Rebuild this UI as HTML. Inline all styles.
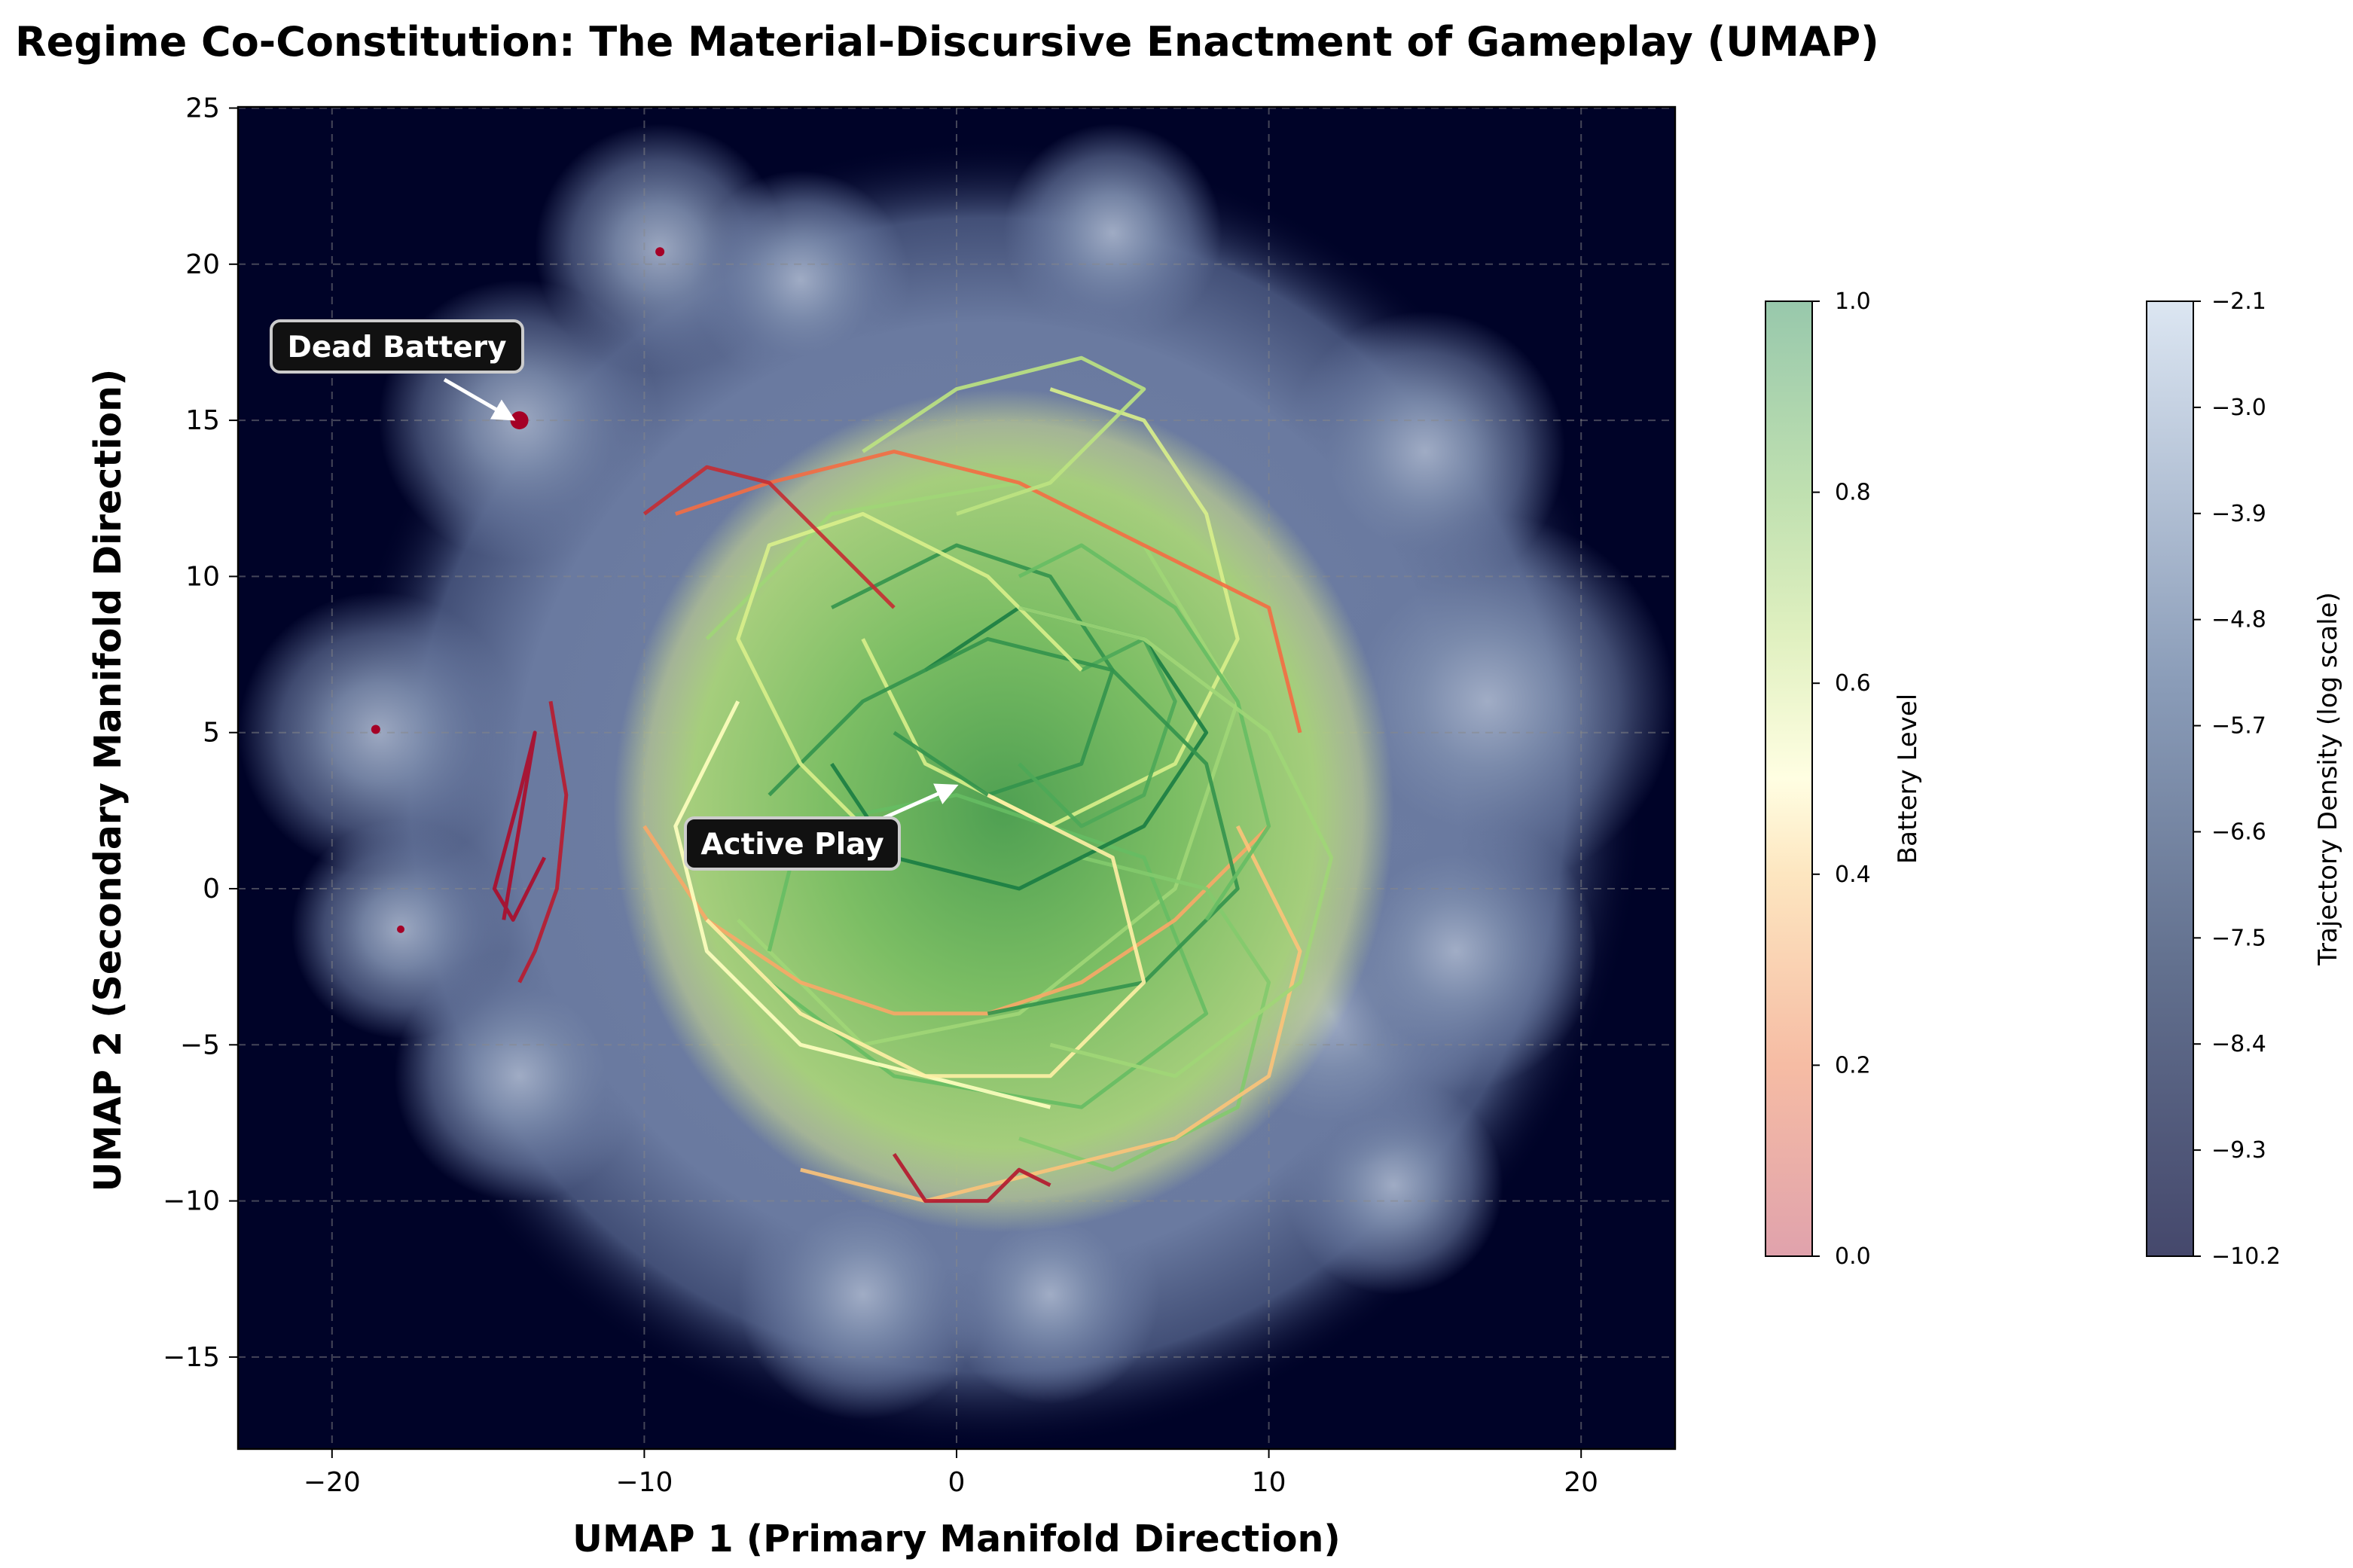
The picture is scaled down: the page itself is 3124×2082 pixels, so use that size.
<!DOCTYPE html>
<html><head><meta charset="utf-8">
<style>
html,body{margin:0;padding:0;background:#fff;}
svg{display:block;font-family:"DejaVu Sans","Liberation Sans",sans-serif;}
</style></head>
<body>
<svg id="chart" width="3124" height="2082" viewBox="0 0 1562 1041" xmlns="http://www.w3.org/2000/svg">
<defs>
<radialGradient id="blob"><stop offset="0" stop-color="#a4b0c8" stop-opacity="0.95"/><stop offset="0.35" stop-color="#7e8eae" stop-opacity="0.9"/><stop offset="0.7" stop-color="#6a7aa0" stop-opacity="0.6"/><stop offset="1" stop-color="#6a7aa0" stop-opacity="0"/></radialGradient>
<radialGradient id="mainblob"><stop offset="0" stop-color="#7282a6"/><stop offset="0.72" stop-color="#6a7aa0"/><stop offset="0.88" stop-color="#4a5880" stop-opacity="0.9"/><stop offset="1" stop-color="#000328" stop-opacity="0"/></radialGradient>
<radialGradient id="mass"><stop offset="0" stop-color="#4fa052"/><stop offset="0.45" stop-color="#7cbe64"/><stop offset="0.8" stop-color="#a8d27a" stop-opacity="0.95"/><stop offset="0.92" stop-color="#c8d890" stop-opacity="0.6"/><stop offset="1" stop-color="#c8d890" stop-opacity="0"/></radialGradient>
<linearGradient id="batt" x1="0" y1="1" x2="0" y2="0"><stop offset="0" stop-color="#e0a2ac"/><stop offset="0.2" stop-color="#f6bca4"/><stop offset="0.4" stop-color="#fde6c0"/><stop offset="0.5" stop-color="#fffee2"/><stop offset="0.65" stop-color="#e0f0c0"/><stop offset="0.8" stop-color="#bfe0b0"/><stop offset="1" stop-color="#98c8ac"/></linearGradient>
<linearGradient id="dens" x1="0" y1="1" x2="0" y2="0"><stop offset="0" stop-color="#45486c"/><stop offset="0.3" stop-color="#62708e"/><stop offset="0.6" stop-color="#8a9cb8"/><stop offset="1" stop-color="#dce6f2"/></linearGradient>
<clipPath id="plotclip"><rect x="158" y="71" width="954" height="891"/></clipPath>
<marker id="arr" markerWidth="6" markerHeight="6" refX="5" refY="3" orient="auto"><path d="M0,0 L6,3 L0,6 z" fill="#fff"/></marker>
</defs>
<text x="10" y="37" font-size="27" font-weight="bold" fill="#000">Regime Co-Constitution: The Material-Discursive Enactment of Gameplay (UMAP)</text>
<rect x="158" y="71" width="954" height="891" fill="#000328"/>
<g id="density" clip-path="url(#plotclip)"></g>
<g id="grid" clip-path="url(#plotclip)"></g>
<g id="traj" clip-path="url(#plotclip)"></g>
<g id="axes"></g>
<text x="635" y="1030" text-anchor="middle" font-size="24.5" font-weight="bold">UMAP 1 (Primary Manifold Direction)</text>
<text transform="translate(80,518) rotate(-90)" text-anchor="middle" font-size="24.5" font-weight="bold">UMAP 2 (Secondary Manifold Direction)</text>
<g id="annots"></g>
<g id="cbars"></g>
</svg>
<script>
const xTicks=[-20,-10,0,10,20];
const yTicks=[-15,-10,-5,0,5,10,15,20,25];
const densityCenters=[[1,3,21],[-9.5,20.5,4],[-14,15,4.5],[-18.5,5,4.5],[-17.8,-1.3,3.5],[5,21,3.5],[15,14,4.5],[17,6,6],[14,-9.5,3.5],[-3,-13,4],[3,-13,3.5],[-5,19.5,3.5],[12,-4,5],[-14,-6,4],[16,-2,4.5]];
const battTicks=[0.0,0.2,0.4,0.6,0.8,1.0];
const densTicks=["\u221210.2","\u22129.3","\u22128.4","\u22127.5","\u22126.6","\u22125.7","\u22124.8","\u22123.9","\u22123.0","\u22122.1"];
const massCenter=[1.5,2.5,12.5];
const trajX=[[-8,-4,2,6,9,7,2,-3,-7],[-6,-2,4,8,6,0,-5,-6],[3,6,8,9,7,3,-1,-3],[-10,-8,-5,-2,1,4,7,10],[-4,0,3,5,4,1,-2],[-9,-6,-2,2,6,10,11],[2,5,9,10,8,4],[-7,-9,-8,-5,-1,3],[-5,-1,3,7,10,11,9],[-1,2,6,8,6,2,-2,-4],[4,6,7,6,4,2],[-3,0,4,6,3,0],[-6,-3,1,5,8,9,6,1],[-8,-5,-1,3,6,5,1],[2,4,7,9,10,8],[-2,-5,-7,-6,-3,1,4],[3,7,11,12,10,6,2]];
const trajY=[[8,12,13,11,6,0,-4,-5,-1],[-3,-6,-7,-4,1,3,2,-2],[16,15,12,8,4,2,4,8],[2,-1,-3,-4,-4,-3,-1,2],[9,11,10,7,4,3,5],[12,13,14,13,11,9,5],[-8,-9,-7,-3,0,1],[6,2,-2,-5,-6,-7],[-9,-10,-9,-8,-6,-2,2],[7,9,8,5,2,0,1,4],[7,8,6,3,2,4],[14,16,17,16,13,12],[3,6,8,7,4,0,-3,-4],[-1,-4,-6,-6,-3,1,3],[10,11,9,6,2,-1],[1,4,8,11,12,10,7],[-5,-6,-3,1,5,8,9]];
const trajBatt=[0.7,0.8,0.6,0.3,0.9,0.2,0.75,0.5,0.35,0.95,0.85,0.65,0.9,0.45,0.8,0.6,0.7];
const redX=[[-14.5,-14,-13.5,-14,-14.8,-14.2,-13.2],[-13,-12.5,-12.8,-13.5,-14],[-10,-8,-6,-4,-2],[-2,-1,1,2,3]];
const redY=[[-1,2,5,3,0,-1,1],[6,3,0,-2,-3],[12,13.5,13,11,9],[-8.5,-10,-10,-9,-9.5]];
const redBatt=[0.02,0.05,0.08,0.04];
const deadClusters=[[-14,15,6],[-9.5,20.4,3],[-18.6,5.1,3],[-17.8,-1.3,2.5]];
const NS="http://www.w3.org/2000/svg";
const X=v=>635+v*20.73, Y=v=>590-v*20.73;
function mk(tag,attrs,parent){const e=document.createElementNS(NS,tag);for(const k in attrs)e.setAttribute(k,attrs[k]);parent.appendChild(e);return e;}
function battColor(b){const stops=[[0,[165,0,38]],[0.2,[244,109,67]],[0.4,[254,224,139]],[0.5,[255,255,191]],[0.6,[217,239,139]],[0.8,[102,189,99]],[1,[0,104,55]]];for(let i=1;i<stops.length;i++){if(b<=stops[i][0]){const t=(b-stops[i-1][0])/(stops[i][0]-stops[i-1][0]);const c=stops[i-1][1].map((v,j)=>Math.round(v+t*(stops[i][1][j]-v)));return 'rgb('+c.join(',')+')';}}return 'rgb(0,104,55)';}
const dg=document.getElementById('density');
densityCenters.forEach((d,i)=>{const c=mk('circle',{cx:X(d[0]),cy:Y(d[1]),r:d[2]*20.73,fill:i==0?'url(#mainblob)':'url(#blob)'},dg);

});
const gg=document.getElementById('grid');
xTicks.forEach(t=>{mk('line',{x1:X(t),x2:X(t),y1:71,y2:962,stroke:'#888',"stroke-opacity":0.5,"stroke-dasharray":"5,4","stroke-width":1},gg);});
yTicks.forEach(t=>{mk('line',{x1:158,x2:1112,y1:Y(t),y2:Y(t),stroke:'#888',"stroke-opacity":0.5,"stroke-dasharray":"5,4","stroke-width":1},gg);});
const tg=document.getElementById('traj');
const m=mk('ellipse',{cx:X(massCenter[0]),cy:Y(massCenter[1]),rx:massCenter[2]*20.73,ry:massCenter[2]*20.73*1.08,fill:'url(#mass)'},tg);


function drawTraj(xs,ys,b){let d='';xs.forEach((x,i)=>{d+=(i?' L':'M')+X(x).toFixed(1)+','+Y(ys[i]).toFixed(1);});const p=mk('path',{d:d,fill:'none',stroke:battColor(b),"stroke-width":2.5,"stroke-linejoin":"round","stroke-opacity":0.9},tg);

}
trajX.forEach((xs,i)=>drawTraj(xs,trajY[i],trajBatt[i]));
redX.forEach((xs,i)=>drawTraj(xs,redY[i],redBatt[i]));
deadClusters.forEach(c=>{const e=mk('circle',{cx:X(c[0]),cy:Y(c[1]),r:c[2],fill:'#a50026'},tg);

});
const ag=document.getElementById('axes');
mk('rect',{x:158,y:71,width:954,height:891,fill:'none',stroke:'#000',"stroke-width":1.2},ag);
xTicks.forEach(t=>{mk('line',{x1:X(t),x2:X(t),y1:962,y2:968,stroke:'#000'},ag);const l=mk('text',{x:X(t),y:990,"text-anchor":"middle","font-size":18},ag);l.textContent=(t<0?'\u2212':'')+Math.abs(t);

});
yTicks.forEach(t=>{mk('line',{x1:152,x2:158,y1:Y(t),y2:Y(t),stroke:'#000'},ag);const l=mk('text',{x:146,y:Y(t)+6,"text-anchor":"end","font-size":18},ag);l.textContent=(t<0?'\u2212':'')+Math.abs(t);

});
const an=document.getElementById('annots');
function annot(name,bx,by,bw,label,x1,y1,x2,y2){const g=mk('g',{},an);


mk('line',{x1:x1,y1:y1,x2:x2,y2:y2,stroke:'#fff',"stroke-width":2.5,"marker-end":'url(#arr)'},g);
mk('rect',{x:bx,y:by,width:bw,height:34,rx:6,fill:'#111',stroke:'#ccc',"stroke-width":2},g);
const t=mk('text',{x:bx+bw/2,y:by+24,"text-anchor":"middle","font-size":19.5,"font-weight":"bold",fill:'#fff'},g);t.textContent=label;}
annot('dead-battery-annotation',180,213,167,'Dead Battery',295,252,340,278);
annot('active-play-annotation',455,543,142,'Active Play',580,546,634,522);
const cg=document.getElementById('cbars');
mk('rect',{x:1172,y:200,width:31,height:634,fill:'url(#batt)',stroke:'#000'},cg);
battTicks.forEach(t=>{const y=834-t*634;mk('line',{x1:1203,x2:1208,y1:y,y2:y,stroke:'#000'},cg);const l=mk('text',{x:1218,y:y+5,"font-size":15},cg);l.textContent=t.toFixed(1);

});
const bl=mk('text',{transform:'translate(1272,517) rotate(-90)',"text-anchor":"middle","font-size":17},cg);bl.textContent='Battery Level';


mk('rect',{x:1425,y:200,width:31,height:634,fill:'url(#dens)',stroke:'#000'},cg);
densTicks.forEach((t,i)=>{const y=834-i*634/(densTicks.length-1);mk('line',{x1:1456,x2:1461,y1:y,y2:y,stroke:'#000'},cg);const l=mk('text',{x:1468,y:y+5,"font-size":15},cg);l.textContent=t;

});
const dl=mk('text',{transform:'translate(1551,517) rotate(-90)',"text-anchor":"middle","font-size":17},cg);dl.textContent='Trajectory Density (log scale)';


</script>
</body></html>
